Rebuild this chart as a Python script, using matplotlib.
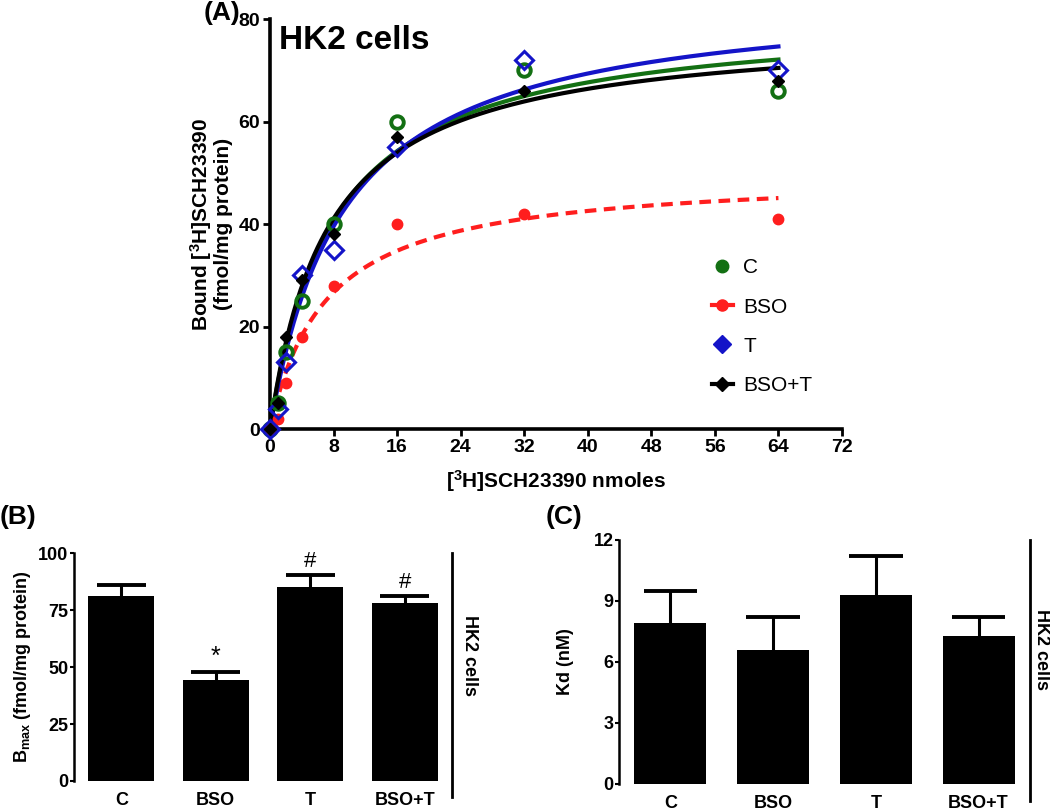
import numpy as np
import matplotlib.pyplot as plt
from matplotlib.lines import Line2D

plt.rcParams['font.family'] = ['Liberation Sans', 'DejaVu Sans']
plt.rcParams['font.weight'] = 'bold'
plt.rcParams['axes.labelweight'] = 'bold'
plt.rcParams['mathtext.fontset'] = 'custom'
plt.rcParams['mathtext.rm'] = 'Liberation Sans:bold'
plt.rcParams['mathtext.default'] = 'rm'

# panel A: saturation binding
conc = [0, 1, 2, 4, 8, 16, 32, 64]
bound_c = [0, 5, 15, 25, 40, 60, 70, 66]
bound_bso = [0, 2, 9, 18, 28, 40, 42, 41]
bound_t = [0, 4, 13, 30, 35, 55, 72, 70]
bound_bsot = [0, 5, 18, 29, 38, 57, 66, 68]

# one-site fit parameters for the drawn curves
fit_bmax = [81.0, 50.0, 85.5, 78.5]
fit_kd = [7.9, 7.0, 9.3, 7.3]

# panels B and C
groups = ['C', 'BSO', 'T', 'BSO+T']
bmax = [81.0, 44.5, 85.2, 78.3]
bmax_err = [5.0, 3.5, 5.4, 3.0]
bmax_marks = ['', '*', '#', '#']
kd = [7.9, 6.6, 9.3, 7.3]
kd_err = [1.6, 1.6, 1.9, 0.9]

series_names = ['C', 'BSO', 'T', 'BSO+T']
colors = ['#137013', '#ff1e1e', '#1414c8', 'black']


def bold_ticks(a):
    plt.setp(a.get_xticklabels() + a.get_yticklabels(), fontweight='bold')


fig = plt.figure(figsize=(10.5, 8.11), dpi=100)

# ---------------- (A) ----------------
ax = fig.add_axes([0.2571, 0.471, 0.5448, 0.5055])
xs = np.linspace(0, 64, 300)
ax.plot(xs, fit_bmax[1] * xs / (fit_kd[1] + xs), color=colors[1], lw=3,
        ls=(0, (2.8, 1.8)), zorder=2)
for i in [0, 2, 3]:
    ax.plot(xs, fit_bmax[i] * xs / (fit_kd[i] + xs), color=colors[i], lw=3,
            zorder=2 + i * 0.1)

ax.plot(conc, bound_c, 'o', ms=9, mfc='none', mec=colors[0], mew=2.8,
        zorder=4, clip_on=False)
ax.plot(conc, bound_bso, 'o', ms=7.5, color=colors[1], zorder=4, clip_on=False)
ax.plot(conc, bound_t, 'D', ms=9, mfc='none', mec=colors[2], mew=2.2,
        zorder=4, clip_on=False)
ax.plot(conc, bound_bsot, 'D', ms=6.5, color=colors[3], zorder=4.1,
        clip_on=False)

ax.set_xlim(0, 72)
ax.set_ylim(0, 80)
ax.set_xticks(range(0, 73, 8))
ax.set_yticks(range(0, 81, 20))
for s in ['top', 'right']:
    ax.spines[s].set_visible(False)
for s in ['left', 'bottom']:
    ax.spines[s].set_linewidth(2.6)
ax.tick_params(width=2, length=5, labelsize=14, pad=2)
bold_ticks(ax)
ax.set_xlabel('[$^3$H]SCH23390 nmoles', fontsize=15, labelpad=9)
ax.set_ylabel('Bound [$^3$H]SCH23390\n(fmol/mg protein)', fontsize=15,
              labelpad=4, linespacing=1.0)
ax.text(0.016, 0.985, 'HK2 cells', transform=ax.transAxes, fontsize=24,
        va='top', ha='left')

handles = [
    Line2D([], [], marker='o', ls='none', ms=9, color=colors[0]),
    Line2D([], [], marker='o', ls='-', lw=3, ms=8, color=colors[1]),
    Line2D([], [], marker='D', ls='none', ms=9, color=colors[2]),
    Line2D([], [], marker='D', ls='-', lw=3, ms=7, color=colors[3]),
]
leg = ax.legend(handles, series_names, loc='upper left',
                bbox_to_anchor=(0.74, 0.462), frameon=False, handlelength=1.0,
                handletextpad=0.5, labelspacing=0.97,
                prop={'size': 15, 'weight': 'normal'})

fig.text(204 / 1050, 1 - 1 / 811, '(A)', fontsize=19, va='top', ha='left')


def bar_panel(rect, vals, errs, ylim, yticks, ylabel, cap, text_dx):
    bx = fig.add_axes(rect)
    pos = np.arange(len(groups))
    tops = np.array(vals) + np.array(errs)
    bx.vlines(pos, vals, tops, color='black', lw=2.2, zorder=1)
    bx.hlines(tops, pos - cap, pos + cap, color='black', lw=2.8, zorder=1)
    bx.bar(pos, vals, width=0.7, color='black', zorder=2)
    bx.set_xlim(-0.5, 3.5)
    bx.set_ylim(*ylim)
    bx.set_yticks(yticks)
    bx.set_xticks(pos)
    bx.set_xticklabels(groups)
    for s in ['top', 'right', 'bottom']:
        bx.spines[s].set_visible(False)
    bx.spines['left'].set_linewidth(1.8)
    bx.tick_params(axis='y', width=1.5, length=3, labelsize=13, pad=1)
    bx.tick_params(axis='x', length=0, labelsize=13, pad=8)
    bold_ticks(bx)
    bx.set_ylabel(ylabel, fontsize=13)
    bx.plot([1.0, 1.0], [-0.07, 1.0], transform=bx.transAxes, color='black',
            lw=2, clip_on=False)
    bx.text(1.0 + text_dx, 0.55, 'HK2 cells', transform=bx.transAxes,
            rotation=270, fontsize=13, ha='left', va='center')
    return bx


# ---------------- (B) ----------------
bx = bar_panel([0.0705, 0.037, 0.36, 0.281], bmax, bmax_err, (0, 100),
               [0, 25, 50, 75, 100], 'B$_{max}$ (fmol/mg protein)', 0.26,
               0.025)
for i, m in enumerate(bmax_marks):
    if m:
        bx.text(i, bmax[i] + bmax_err[i] + 1, m, ha='center', va='bottom',
                fontsize=18 if m == '*' else 16, fontweight='normal')
fig.text(0, 1 - 505 / 811, '(B)', fontsize=19, va='top', ha='left')

# ---------------- (C) ----------------
cx = bar_panel([0.5895, 0.0333, 0.3914, 0.3009], kd, kd_err, (0, 12),
               [0, 3, 6, 9, 12], 'Kd (nM)', 0.26, 0.008)
cx.set_ylabel('Kd (nM)', fontsize=13, labelpad=14)
fig.text(546 / 1050, 1 - 505 / 811, '(C)', fontsize=19, va='top', ha='left')

fig.savefig('out.png', dpi=100)
